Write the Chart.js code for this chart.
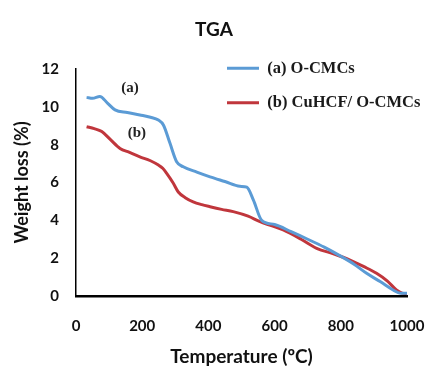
<!DOCTYPE html>
<html>
<head>
<meta charset="utf-8">
<script src="https://cdn.jsdelivr.net/npm/chart.js@4/dist/chart.umd.min.js"></script>
<style>
html,body{margin:0;padding:0;background:#fff;}
#wrap{width:428px;height:372px;position:relative;}
</style>
</head>
<body>
<div id="wrap"><canvas id="c" width="428" height="372"></canvas></div>
<script>
// Temperatures (°C) and weight-loss values
const tempA = [32, 50, 72, 95, 118, 155, 193, 225, 249, 264, 284, 304, 324, 365, 405, 450, 495, 516, 536, 561, 600, 650, 700, 750, 798, 840, 878, 920, 958, 980, 1000];
const lossA = [10.5, 10.45, 10.55, 10.2, 9.84, 9.7, 9.57, 9.45, 9.3, 9.04, 8.07, 7.1, 6.83, 6.55, 6.3, 6.05, 5.8, 5.75, 5.07, 4.0, 3.78, 3.4, 3.0, 2.58, 2.12, 1.68, 1.2, 0.75, 0.32, 0.15, 0.15];

const tempB = [32, 55, 78, 105, 133, 160, 193, 225, 249, 262, 274, 294, 309, 330, 354, 380, 405, 440, 475, 520, 556, 590, 626, 680, 727, 780, 828, 870, 908, 940, 968, 985, 1000];
const lossB = [8.95, 8.85, 8.69, 8.25, 7.8, 7.6, 7.36, 7.15, 6.92, 6.75, 6.48, 5.96, 5.5, 5.2, 4.98, 4.83, 4.72, 4.58, 4.46, 4.22, 3.93, 3.72, 3.49, 3.0, 2.52, 2.22, 1.9, 1.55, 1.2, 0.8, 0.32, 0.15, 0.12];

const seriesNames = ['(a) O-CMCs', '(b) CuHCF/ O-CMCs'];
const xTicks = [0, 200, 400, 600, 800, 1000];
const yTicks = [0, 2, 4, 6, 8, 10, 12];

// curve annotations
const annText = ['(a)', '(b)'];
const annT = [163, 184];
const annV = [11.0, 8.6];

const toPts = (t, v) => t.map((x, i) => ({x: x, y: v[i]}));

const curvePlugin = {
  id: 'curveLabels',
  afterLayout(chart) {
    const lg = chart.legend;
    if (lg) {
      lg.left = 209; lg.right = 209 + lg.width;
      lg.top = 42; lg.bottom = 42 + lg.height;
    }
  },
  afterDatasetsDraw(chart) {
    const {ctx, scales: {x, y}} = chart;
    ctx.save();
    ctx.font = 'bold 15px "Liberation Serif"';
    ctx.fillStyle = '#222';
    ctx.textAlign = 'center';
    ctx.textBaseline = 'middle';
    annText.forEach((s, i) => ctx.fillText(s, x.getPixelForValue(annT[i]), y.getPixelForValue(annV[i])));
    ctx.restore();
  }
};

new Chart(document.getElementById('c'), {
  type: 'line',
  data: {
    datasets: [
      {label: seriesNames[0], data: toPts(tempA, lossA), borderColor: '#5b9bd5', backgroundColor: '#5b9bd5', borderWidth: 3, pointRadius: 0, cubicInterpolationMode: 'monotone'},
      {label: seriesNames[1], data: toPts(tempB, lossB), borderColor: '#c0363c', backgroundColor: '#c0363c', borderWidth: 3, pointRadius: 0, cubicInterpolationMode: 'monotone'}
    ]
  },
  options: {
    responsive: false,
    animation: false,
    devicePixelRatio: 1,
    layout: {padding: {left: 0, right: 0, top: 0, bottom: 0}},
    plugins: {
      title: {display: true, text: 'TGA', color: '#111', font: {family: 'Lato', size: 19, weight: 'bold'}, padding: {top: 18.6, bottom: 27.6}},
      legend: {
        position: 'chartArea', align: 'start',
        labels: {usePointStyle: true, pointStyle: 'line', pointStyleWidth: 32, boxHeight: 16, padding: 18, color: '#1a1a1a', font: {family: 'Liberation Serif', size: 16.5, weight: 'bold'}}
      },
      tooltip: {enabled: false}
    },
    scales: {
      x: {
        type: 'linear', min: 0, max: 1000,
        afterFit(s) { s.height = 76; s.paddingLeft = 0; s.paddingRight = 21; },
        afterBuildTicks(s) { s.ticks = xTicks.map(v => ({value: v})); },
        grid: {display: false, drawTicks: false},
        border: {display: true, color: '#000', width: 2.5},
        ticks: {padding: 21, color: '#111', font: {family: 'Lato', size: 15, weight: 'bold'}, maxRotation: 0, callback: v => String(v)},
        title: {display: true, text: 'Temperature (ºC)', color: '#111', font: {family: 'Lato', size: 19, weight: 'bold'}, padding: {top: 0, bottom: 3.5}}
      },
      y: {
        min: 0, max: 12,
        afterFit(s) { s.width = 76; s.paddingTop = 0; s.paddingBottom = 0; },
        afterBuildTicks(s) { s.ticks = yTicks.map(v => ({value: v})); },
        grid: {display: false, drawTicks: false},
        border: {display: true, color: '#000', width: 1.5},
        ticks: {padding: 17, color: '#111', font: {family: 'Lato', size: 15, weight: 'bold'}, callback: v => String(v)},
        title: {display: true, text: 'Weight loss (%)', color: '#111', font: {family: 'Lato', size: 18, weight: 'bold'}, padding: {top: 11, bottom: 0}}
      }
    }
  },
  plugins: [curvePlugin]
});
</script>
</body>
</html>
